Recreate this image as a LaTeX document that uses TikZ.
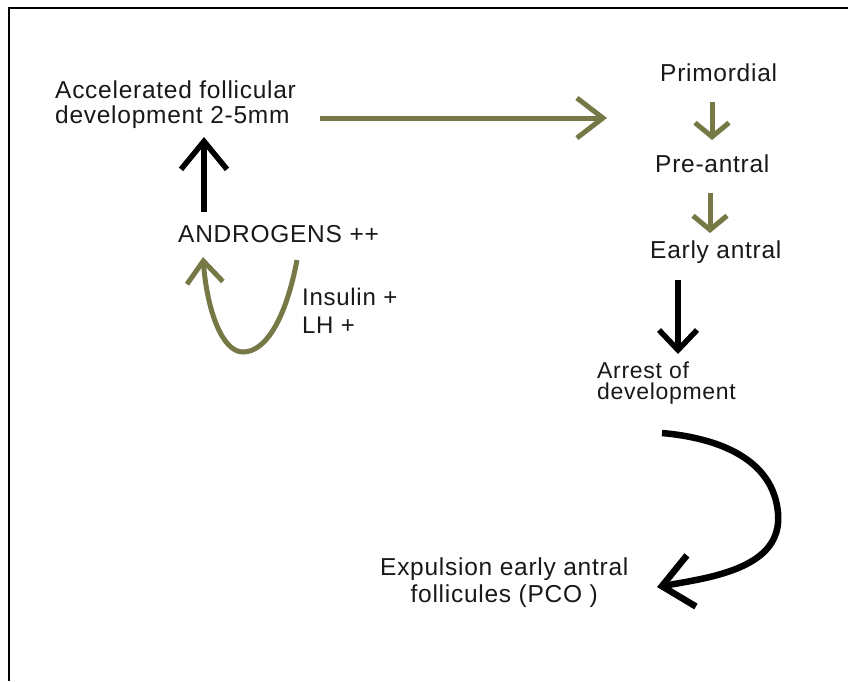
\documentclass[tikz,border=0pt]{standalone}
\usepackage{fontspec}
\setmainfont{Liberation Sans}[LetterSpace=3]
\usetikzlibrary{arrows.meta}
\definecolor{olive}{RGB}{118,120,70}
\tikzset{
  lbl/.style={font=\fontsize{24.5}{25}\selectfont, inner sep=0pt, anchor=base west, align=left, text=black!90},
  blk/.style={draw=black, line width=5.5pt},
  grn/.style={draw=olive, line width=5pt},
}
\begin{document}
\begin{tikzpicture}[x=1pt,y=-1pt]
\useasboundingbox (0,0) rectangle (848,681);
\fill[white] (0,0) rectangle (848,681);
% frame (top and left edges only)
\draw[line width=2pt] (848,7.5) -- (8.5,7.5) -- (8.5,681);

% texts (anchor = baseline of the last line)
\node[lbl] (acc) at (55,123) {Accelerated follicular\\development 2-5mm};
\node[lbl] (prim) at (660,81) {Primordial};
\node[lbl] (pre) at (655,172) {Pre-antral};
\node[lbl] (early) at (650,258) {Early antral};
\node[lbl, font=\fontsize{23}{21}\selectfont] (arrest) at (597,399) {Arrest of\\development};
\node[lbl] (andro) at (178,242) {ANDROGENS ++};
\node[lbl, font=\fontsize{24}{28}\selectfont] (ins) at (302,333) {Insulin +\\LH +};
\node[lbl, align=center, font=\fontsize{24.5}{27}\selectfont] (exp) at (380,602) {Expulsion early antral\\follicules (PCO )};

% connectors
\coordinate (a1s) at (320,118);
\coordinate (a1e) at (607,118);
\draw[grn, -{Straight Barb[length=26pt,width=40pt,line width=5pt]}] (a1s) -- (a1e);

\coordinate (p1s) at (712,102);
\coordinate (p1e) at (712,140);
\draw[grn, -{Straight Barb[length=14pt,width=34pt,line width=5pt]}] (p1s) -- (p1e);

\coordinate (p2s) at (710,193);
\coordinate (p2e) at (710,233);
\draw[grn, -{Straight Barb[length=14pt,width=34pt,line width=5pt]}] (p2s) -- (p2e);

\coordinate (b1s) at (678,280);
\coordinate (b1e) at (678,354);
\draw[blk, -{Straight Barb[length=20pt,width=38pt,line width=5.5pt]}] (b1s) -- (b1e);

\coordinate (upS) at (204,212);
\coordinate (upE) at (204,137);
\draw[blk, -{Straight Barb[length=28pt,width=46pt,line width=5.5pt]}] (upS) -- (upE);

\coordinate (cS) at (662,433);
\coordinate (cM) at (778,513);
\coordinate (cE) at (657,587);
\draw[blk, line width=6.5pt, -{Straight Barb[length=30pt,width=52pt,line width=6.5pt]}]
  (cS) to[out=-5,in=95] (cM) to[out=-85,in=10] (cE);

\coordinate (uS) at (297,260);
\coordinate (uB) at (243,352);
\coordinate (uE) at (203,257);
\draw[grn, -{Straight Barb[length=22pt,width=36pt,line width=5pt]}]
  (uS) .. controls (286,318) and (266,352) .. (uB) .. controls (222,352) and (207,310) .. (uE);
\end{tikzpicture}
\end{document}
